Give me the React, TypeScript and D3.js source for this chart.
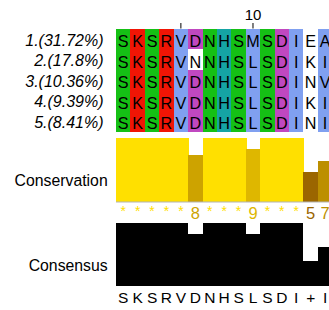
import React from "react";
import * as d3 from "d3";

// Alignment rows (top 5 clusters) and their labels
const sequenceLabels = ["1.(31.72%)", "2.(17.8%)", "3.(10.36%)", "4.(9.39%)", "5.(8.41%)"];
const sequences = [
  "SKSRVDNHSMSDIEA",
  "SKSRVNNHSLSDIKI",
  "SKSRVDNHSLSDINV",
  "SKSRVDNHSLSDIKI",
  "SKSRVDNHSLSDINI",
];

// Annotation rows
const conservation = [11, 11, 11, 11, 11, 8, 11, 11, 11, 9, 11, 11, 11, 5, 7];
const consensusPct = [100, 100, 100, 100, 100, 82, 100, 100, 100, 82, 100, 100, 100, 40, 61];
const consensusLabels = ["S", "K", "S", "R", "V", "D", "N", "H", "S", "L", "S", "D", "I", "+", "I"];

// Ruler: alignment positions with tick marks (1-based), only multiples of 10 get a label
const rulerTicks = [5, 10];

const W = 329;
const H = 310;
const FONT = "'Liberation Sans', Arial, Helvetica, sans-serif";

// Clustal-like residue groups
const groups: { residues: string; color: string }[] = [
  { residues: "AILMFWVC", color: "#80a0f0" },
  { residues: "KR", color: "#f01505" },
  { residues: "DE", color: "#c048c0" },
  { residues: "STNQ", color: "#15c015" },
  { residues: "HY", color: "#15a4a4" },
  { residues: "G", color: "#f09048" },
  { residues: "P", color: "#c0c000" },
];

// colour a residue only when its group holds the majority of the column
function cellColor(col: number, res: string): string {
  const g = groups.find((gr) => gr.residues.includes(res));
  if (!g) return "white";
  const n = sequences.filter((s) => g.residues.includes(s[col])).length;
  return n / sequences.length > 0.5 ? g.color : "white";
}

const App: React.FC = () => {
  const nCols = sequences[0].length;
  const colW = 14.42;
  const x = d3
    .scaleBand<number>()
    .domain(d3.range(nCols))
    .range([116, 116 + nCols * colW])
    .padding(0);
  const y = d3
    .scaleBand<number>()
    .domain(d3.range(sequences.length))
    .range([29, 29 + sequences.length * 20.4])
    .padding(0);

  const consY = d3.scaleLinear().domain([0, 11]).range([201.5, 137.5]);
  const consColor = d3
    .scaleLinear<string>()
    .domain([5, 11])
    .range(["#9b6600", "#ffe000"]);
  const qualY = d3.scaleLinear().domain([0, 100]).range([286, 222.7]);

  const cx = (i: number) => (x(i) as number) + x.bandwidth() / 2;

  // consensus histogram as one step path (no seams between columns)
  const stepData = [...consensusPct.map((v, i) => ({ i, v })), { i: nCols, v: consensusPct[nCols - 1] }];
  const consArea = d3
    .area<{ i: number; v: number }>()
    .x((d) => 116 + d.i * colW)
    .y0(qualY(0))
    .y1((d) => qualY(d.v))
    .curve(d3.curveStepAfter);

  return (
    <svg
      width={W}
      height={H}
      style={{ position: "absolute", left: 0, top: 0, background: "white" }}
      fontFamily={FONT}
    >
      {/* ruler */}
      {rulerTicks.map((t) => (
        <g key={t}>
          <line x1={cx(t - 1)} x2={cx(t - 1)} y1={23} y2={28.5} stroke="black" />
          {t % 10 === 0 && (
            <text x={cx(t - 1)} y={20} textAnchor="middle" fontSize={15}>
              {t}
            </text>
          )}
        </g>
      ))}

      {/* sequence labels */}
      {sequenceLabels.map((l, r) => (
        <text
          key={l}
          x={103.5}
          y={(y(r) as number) + 17}
          textAnchor="end"
          fontSize={16}
          fontStyle="italic"
        >
          {l}
        </text>
      ))}

      {/* alignment cells */}
      <g shapeRendering="crispEdges">
        {sequences.map((s, r) =>
          s.split("").map((res, c) => (
            <rect
              key={`${r}-${c}`}
              x={x(c)}
              y={y(r)}
              width={x.bandwidth() + 1}
              height={y.bandwidth() + 1}
              fill={cellColor(c, res)}
            />
          ))
        )}
      </g>
      {sequences.map((s, r) =>
        s.split("").map((res, c) => (
          <text
            key={`t${r}-${c}`}
            x={cx(c)}
            y={(y(r) as number) + 18.4}
            textAnchor="middle"
            fontSize={16.2}
            fill="black"
          >
            {res}
          </text>
        ))
      )}

      {/* conservation */}
      <text x={107.7} y={186} textAnchor="end" fontSize={15.8}>
        Conservation
      </text>
      <g shapeRendering="crispEdges">
        {conservation.map((v, c) => (
          <rect
            key={c}
            x={x(c)}
            y={consY(v)}
            width={x.bandwidth() + 1}
            height={consY(0) - consY(v)}
            fill={consColor(v)}
          />
        ))}
      </g>
      <line x1={116} x2={W} y1={202} y2={202} stroke="#b4b4b4" strokeWidth={1.2} />
      {conservation.map((v, c) =>
        v === 11 ? (
          <text key={c} x={cx(c)} y={216} textAnchor="middle" fontSize={14} fill={consColor(v)}>
            *
          </text>
        ) : (
          <text key={c} x={cx(c)} y={218.8} textAnchor="middle" fontSize={16.5} fill={consColor(v)}>
            {v}
          </text>
        )
      )}

      {/* consensus */}
      <text x={107.7} y={271} textAnchor="end" fontSize={15.8}>
        Consensus
      </text>
      <path d={consArea(stepData) ?? ""} fill="black" shapeRendering="crispEdges" />
      {consensusLabels.map((l, c) => (
        <text key={c} x={cx(c)} y={302.5} textAnchor="middle" fontSize={15.5}>
          {l}
        </text>
      ))}
    </svg>
  );
};

export default App;
